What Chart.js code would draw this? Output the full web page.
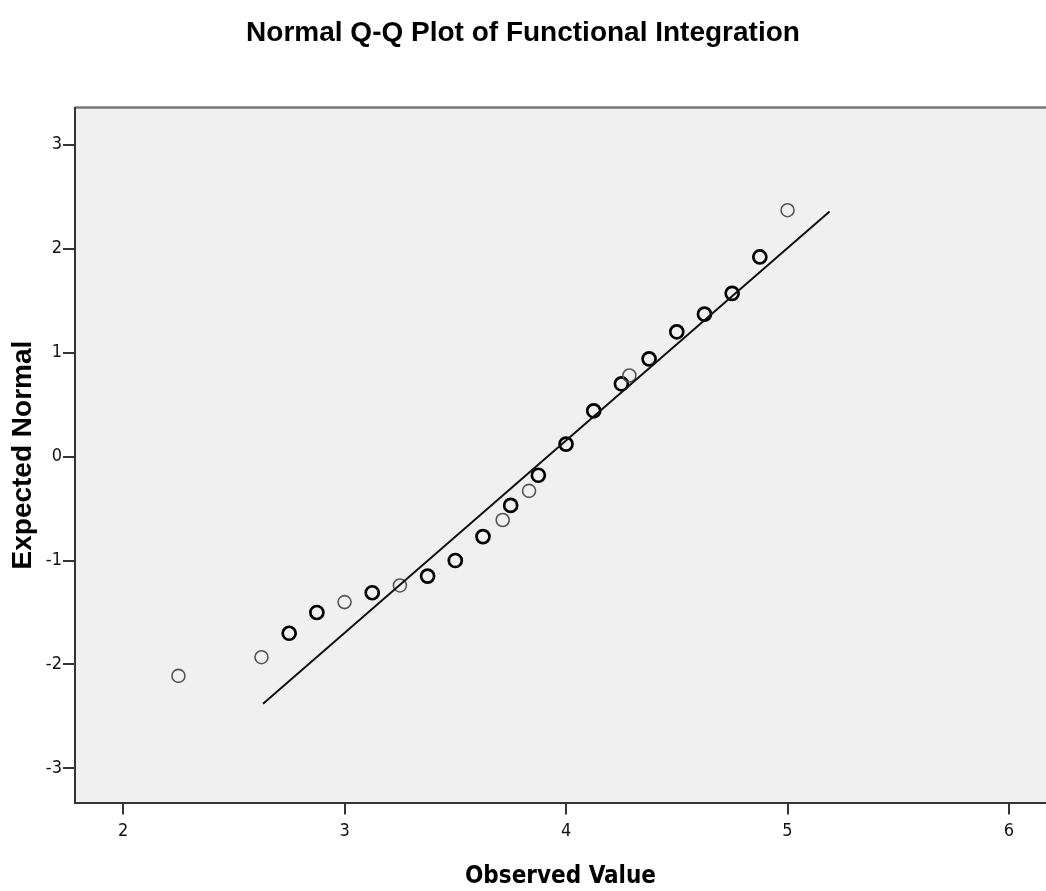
<!DOCTYPE html>
<html>
<head>
<meta charset="utf-8">
<script src="https://cdn.jsdelivr.net/npm/chart.js@4"></script>
<style>
  html, body { margin: 0; padding: 0; background: #fff; overflow: hidden; }
</style>
</head>
<body>
<canvas id="qqChart" width="1046" height="891"></canvas>
<script>
// observed values seen once (thin rings)
const singleX = [2.25, 2.625, 3.0, 3.25, 3.714, 3.833, 4.286, 5.0];
const singleY = [-2.11, -1.93, -1.40, -1.24, -0.61, -0.33, 0.78, 2.37];
// observed values seen several times (thick rings)
const repeatX = [2.75, 2.875, 3.125, 3.375, 3.5, 3.625, 3.75, 3.875, 4.0, 4.125, 4.25, 4.375, 4.5, 4.625, 4.75, 4.875];
const repeatY = [-1.70, -1.50, -1.31, -1.15, -1.00, -0.77, -0.47, -0.18, 0.12, 0.44, 0.70, 0.94, 1.20, 1.37, 1.57, 1.92];
// reference line ends
const lineX = [2.632, 5.19];
const lineY = [-2.377, 2.357];

const xTicks = [2, 3, 4, 5, 6];
const yTicks = [-3, -2, -1, 0, 1, 2, 3];

function toPoints(xs, ys) {
  return xs.map(function(x, i) { return { x: x, y: ys[i] }; });
}

const plotBg = {
  id: 'plotBg',
  beforeDraw: function(chart) {
    const c = chart.ctx, a = chart.chartArea;
    c.save();
    c.fillStyle = '#f0f0f0';
    c.fillRect(a.left, a.top, a.right - a.left, a.bottom - a.top);
    c.strokeStyle = '#777';
    c.lineWidth = 2.5;
    c.beginPath();
    c.moveTo(a.left, a.top);
    c.lineTo(a.right, a.top);
    c.stroke();
    c.restore();
  }
};

const tickFont = { family: "'DejaVu Sans Condensed', 'DejaVu Sans', sans-serif", size: 18 };

const ctx = document.getElementById('qqChart').getContext('2d');
const qqChart = new Chart(ctx, {
  type: 'scatter',
  data: {
    datasets: [
      {
        type: 'line',
        label: 'line',
        data: toPoints(lineX, lineY),
        borderColor: '#111',
        borderWidth: 2,
        pointRadius: 0,
        fill: false,
      },
      {
        label: 'single',
        data: toPoints(singleX, singleY),
        pointRadius: 6.5,
        pointBorderWidth: 1.6,
        borderColor: '#555',
        backgroundColor: 'rgba(0,0,0,0)',
      },
      {
        label: 'repeat',
        data: toPoints(repeatX, repeatY),
        pointRadius: 6.5,
        pointBorderWidth: 2.7,
        borderColor: '#000',
        backgroundColor: 'rgba(0,0,0,0)',
      },
    ],
  },
  options: {
    responsive: false,
    animation: false,
    layout: { padding: 0, autoPadding: false },
    plugins: {
      legend: { display: false },
      tooltip: { enabled: false },
      title: {
        display: true,
        text: 'Normal Q-Q Plot of Functional Integration',
        color: '#000',
        font: { family: "'Liberation Sans', Arial, sans-serif", size: 28, weight: 'bold' },
        padding: { top: 16, bottom: 58 },
      },
    },
    scales: {
      x: {
        type: 'linear',
        min: 1.783,
        max: 6.167,
        afterBuildTicks: function(scale) {
          scale.ticks = xTicks.map(function(v) { return { value: v }; });
        },
        grid: { drawOnChartArea: false, tickLength: 12, color: '#333', lineWidth: 2 },
        border: { display: true, color: '#333', width: 2 },
        ticks: { color: '#111', font: tickFont, padding: 6, maxRotation: 0 },
        title: {
          display: true,
          text: 'Observed Value',
          color: '#000',
          font: { family: "'DejaVu Sans Condensed', 'DejaVu Sans', sans-serif", size: 24, weight: 'bold' },
          padding: { top: 14, bottom: 0 },
        },
      },
      y: {
        type: 'linear',
        min: -3.329,
        max: 3.357,
        afterBuildTicks: function(scale) {
          scale.ticks = yTicks.map(function(v) { return { value: v }; });
        },
        afterFit: function(scale) {
          scale.width = 75;
        },
        grid: { drawOnChartArea: false, tickLength: 12, color: '#333', lineWidth: 2 },
        border: { display: true, color: '#333', width: 2 },
        ticks: { color: '#111', font: tickFont, padding: 1 },
        title: {
          display: true,
          text: 'Expected Normal',
          color: '#000',
          font: { family: "'Liberation Sans', Arial, sans-serif", size: 28, weight: 'bold' },
          padding: { top: 6, bottom: 0 },
        },
      },
    },
  },
  plugins: [plotBg],
});
</script>
</body>
</html>
